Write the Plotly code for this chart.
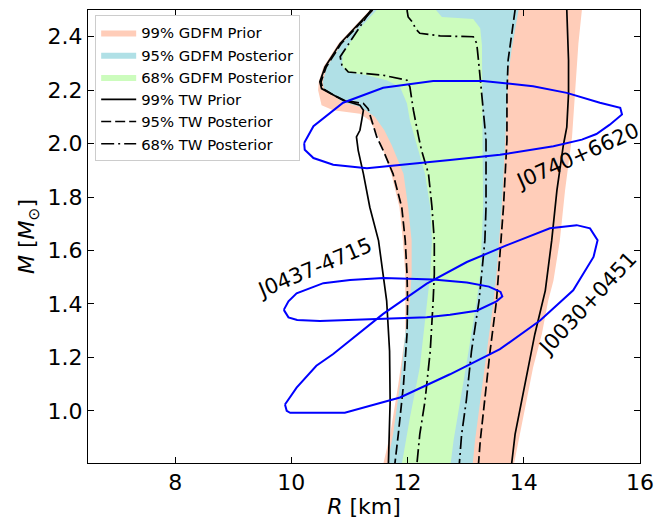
import plotly.graph_objects as go

# ---------------- data (R in km, M in solar masses) ----------------
# 99% GDFM prior band
gdfm99_left_M = [0.80, 0.912, 1.099, 1.287, 1.412, 1.512, 1.637, 1.762, 1.887, 1.975, 2.025, 2.087, 2.112, 2.125, 2.144, 2.200, 2.231, 2.287, 2.375, 2.50]
gdfm99_left_R = [11.58, 11.70, 11.84, 11.96, 11.96, 11.96, 11.92, 11.86, 11.72, 11.58, 11.50, 11.35, 11.18, 10.72, 10.52, 10.46, 10.47, 10.55, 10.81, 11.35]
gdfm99_right_M = [2.50, 2.375, 2.187, 2.025, 1.975, 1.825, 1.637, 1.487, 1.412, 1.287, 1.162, 1.037, 0.912, 0.80]
gdfm99_right_R = [15.00, 14.94, 14.88, 14.83, 14.80, 14.71, 14.62, 14.51, 14.42, 14.31, 14.16, 14.05, 13.94, 13.83]

# 95% GDFM posterior band
gdfm95_left_M = [0.80, 0.912, 1.099, 1.349, 1.412, 1.512, 1.637, 1.762, 1.887, 1.993, 2.050, 2.100, 2.125, 2.140, 2.155, 2.181, 2.206, 2.231, 2.287, 2.375, 2.50]
gdfm95_left_R = [11.65, 11.75, 11.87, 11.99, 12.04, 12.07, 12.07, 12.01, 11.93, 11.73, 11.60, 11.44, 11.28, 11.15, 10.89, 10.72, 10.56, 10.54, 10.61, 10.87, 11.42]
gdfm95_right_M = [2.50, 2.425, 2.350, 2.250, 2.125, 2.012, 1.762, 1.512, 1.412, 1.224, 1.037, 0.887, 0.80]
gdfm95_right_R = [13.91, 13.85, 13.79, 13.73, 13.71, 13.68, 13.62, 13.53, 13.48, 13.36, 13.25, 13.16, 13.12]

# 68% GDFM posterior band
gdfm68_left_M = [0.80, 0.974, 1.162, 1.412, 1.512, 1.637, 1.762, 1.887, 2.012, 2.087, 2.150, 2.212, 2.237, 2.256, 2.268, 2.294, 2.338, 2.425, 2.50]
gdfm68_left_R = [11.90, 12.04, 12.21, 12.33, 12.39, 12.42, 12.39, 12.30, 12.13, 12.04, 11.99, 11.87, 11.64, 11.30, 10.95, 10.87, 10.89, 11.15, 11.47]
gdfm68_right_M = [2.50, 2.474, 2.466, 2.432, 2.369, 2.012, 1.762, 1.512, 1.412, 1.224, 1.037, 0.887, 0.80]
gdfm68_right_R = [12.49, 12.59, 13.13, 13.25, 13.28, 13.29, 13.30, 13.25, 13.19, 13.05, 12.90, 12.79, 12.74]

# 99% TW prior (solid)
tw99_left_M = [2.50, 2.375, 2.287, 2.231, 2.206, 2.181, 2.162, 2.144, 2.125, 2.087, 2.050, 2.025, 1.975, 1.887, 1.762, 1.637, 1.512, 1.412, 1.224, 1.037, 0.80]
tw99_left_R = [11.38, 10.84, 10.58, 10.49, 10.52, 10.72, 10.89, 11.18, 11.24, 11.21, 11.18, 11.12, 11.15, 11.24, 11.35, 11.50, 11.58, 11.64, 11.69, 11.70, 11.67]
tw99_right_M = [2.50, 2.312, 2.187, 2.062, 1.993, 1.825, 1.637, 1.450, 1.287, 1.162, 1.037, 0.912, 0.80]
tw99_right_R = [14.74, 14.77, 14.77, 14.74, 14.68, 14.57, 14.48, 14.37, 14.19, 14.08, 13.96, 13.85, 13.79]

# 95% TW posterior (dashed)
tw95_left_M = [2.50, 2.375, 2.287, 2.231, 2.206, 2.181, 2.162, 2.150, 2.131, 2.087, 2.025, 1.975, 1.887, 1.762, 1.637, 1.512, 1.412, 1.287, 1.099, 0.912, 0.80]
tw95_left_R = [11.40, 10.86, 10.60, 10.51, 10.54, 10.73, 10.91, 11.24, 11.32, 11.38, 11.47, 11.58, 11.75, 11.90, 11.96, 11.99, 12.00, 11.99, 11.93, 11.84, 11.78]
tw95_right_M = [2.50, 2.400, 2.312, 2.187, 2.012, 1.762, 1.537, 1.412, 1.224, 1.037, 0.887, 0.80]
tw95_right_R = [13.85, 13.79, 13.73, 13.71, 13.71, 13.65, 13.58, 13.53, 13.42, 13.32, 13.25, 13.22]

# 68% TW posterior (dash-dot)
tw68_left_M = [2.50, 2.325, 2.294, 2.268, 2.256, 2.237, 2.212, 2.125, 2.025, 1.975, 1.887, 1.762, 1.637, 1.512, 1.412, 1.224, 1.037, 0.912, 0.80]
tw68_left_R = [11.37, 10.84, 10.87, 10.98, 11.58, 11.99, 12.04, 12.10, 12.19, 12.24, 12.36, 12.42, 12.46, 12.46, 12.44, 12.39, 12.30, 12.21, 12.16]
tw68_right_M = [2.50, 2.474, 2.450, 2.432, 2.413, 2.403, 2.400, 2.375, 2.312, 2.187, 2.062, 2.012, 1.762, 1.637, 1.512, 1.412, 1.224, 1.037, 0.912, 0.80]
tw68_right_R = [11.99, 12.01, 12.10, 12.13, 12.21, 12.56, 13.13, 13.19, 13.22, 13.28, 13.33, 13.35, 13.35, 13.33, 13.28, 13.23, 13.10, 13.01, 12.93, 12.89]

# Pulsar observation contours
j0740_R = [10.22, 10.38, 10.89, 11.58, 12.44, 13.30, 14.16, 14.74, 15.31, 15.66, 15.69, 15.48, 15.25, 15.00, 14.51, 13.59, 12.73, 11.87, 11.30, 10.72, 10.38, 10.23, 10.22]
j0740_M = [2.002, 2.065, 2.153, 2.209, 2.234, 2.234, 2.215, 2.190, 2.153, 2.134, 2.109, 2.071, 2.036, 2.015, 1.990, 1.958, 1.939, 1.921, 1.908, 1.921, 1.946, 1.977, 2.002]

j0437_R = [9.87, 9.95, 10.09, 10.55, 11.01, 11.58, 12.44, 13.02, 13.40, 13.60, 13.63, 13.53, 13.19, 12.73, 12.33, 11.30, 10.49, 10.10, 9.95, 9.87]
j0437_M = [1.378, 1.410, 1.440, 1.478, 1.490, 1.497, 1.492, 1.480, 1.465, 1.445, 1.428, 1.410, 1.375, 1.360, 1.350, 1.343, 1.336, 1.340, 1.350, 1.378]

j0030_R = [9.89, 9.92, 9.98, 10.15, 10.92, 11.87, 12.73, 13.59, 14.28, 14.85, 15.20, 15.27, 15.14, 14.91, 14.45, 13.71, 13.02, 12.33, 11.58, 10.72, 10.43, 10.09, 9.89]
j0030_M = [1.024, 1.000, 0.993, 0.993, 0.993, 1.050, 1.137, 1.231, 1.338, 1.451, 1.576, 1.639, 1.683, 1.695, 1.683, 1.620, 1.557, 1.476, 1.363, 1.213, 1.169, 1.087, 1.024]

pulsar_names = ["J0740+6620", "J0437-4715", "J0030+0451"]
label_R = [14.93, 10.40, 15.09]
label_M = [1.952, 1.535, 1.401]
label_angle = [-24, -23, -47]

band_names = ["99% GDFM Prior", "95% GDFM Posterior", "68% GDFM Posterior"]
line_names = ["99% TW Prior", "95% TW Posterior", "68% TW Posterior"]

x_ticks = [8, 10, 12, 14, 16]
y_ticks = [1.0, 1.2, 1.4, 1.6, 1.8, 2.0, 2.2, 2.4]

# ---------------- figure ----------------
FONT = "DejaVu Sans"
fig = go.Figure()

bands = [
    (gdfm99_left_R, gdfm99_left_M, gdfm99_right_R, gdfm99_right_M, "#ffcdb9"),
    (gdfm95_left_R, gdfm95_left_M, gdfm95_right_R, gdfm95_right_M, "#b0e0e6"),
    (gdfm68_left_R, gdfm68_left_M, gdfm68_right_R, gdfm68_right_M, "#ccfcbd"),
]
for name, (lr, lm, rr, rm, col) in zip(band_names, bands):
    fig.add_trace(go.Scatter(
        x=lr + rr, y=lm + rm, mode="lines", fill="toself",
        fillcolor=col, line=dict(width=0, color=col), name=name,
        hoverinfo="skip"))

lines = [
    (tw99_left_R, tw99_left_M, tw99_right_R, tw99_right_M, "solid"),
    (tw95_left_R, tw95_left_M, tw95_right_R, tw95_right_M, "10px,4px"),
    (tw68_left_R, tw68_left_M, tw68_right_R, tw68_right_M, "13px,4px,2px,4px"),
]
for name, (lr, lm, rr, rm, dash) in zip(line_names, lines):
    fig.add_trace(go.Scatter(
        x=lr + [None] + rr, y=lm + [None] + rm, mode="lines",
        line=dict(color="black", width=1.7, dash=dash), name=name,
        connectgaps=False, hoverinfo="skip"))

for R, M in [(j0740_R, j0740_M), (j0437_R, j0437_M), (j0030_R, j0030_M)]:
    fig.add_trace(go.Scatter(
        x=R, y=M, mode="lines", line=dict(color="#0000ff", width=2),
        showlegend=False, hoverinfo="skip"))

for name, r, m, ang in zip(pulsar_names, label_R, label_M, label_angle):
    fig.add_annotation(x=r, y=m, text=name, showarrow=False, textangle=ang,
                       font=dict(family=FONT, size=21, color="black"),
                       xanchor="center", yanchor="middle")

axis_common = dict(
    showline=True, linecolor="black", linewidth=1, mirror="ticks",
    ticks="inside", ticklen=6, tickwidth=1, tickcolor="black",
    showgrid=False, zeroline=False,
    tickfont=dict(family=FONT, size=22, color="black"),
)

fig.update_layout(
    width=670, height=519,
    margin=dict(l=88, r=30, t=10, b=56),
    paper_bgcolor="white", plot_bgcolor="white",
    font=dict(family=FONT, color="black"),
    showlegend=True,
    legend=dict(
        x=0.013, y=0.988, xanchor="left", yanchor="top",
        bgcolor="rgba(255,255,255,0.85)", bordercolor="#cccccc", borderwidth=1,
        font=dict(family=FONT, size=14.8, color="black"),
        tracegroupgap=0, itemwidth=35,
    ),
    xaxis=dict(range=[6.5, 16], tickvals=x_ticks, automargin=False,
               title=dict(text="<i>R</i> [km]", font=dict(family=FONT, size=22), standoff=2),
               **axis_common),
    yaxis=dict(range=[0.805, 2.5], tickvals=y_ticks, tickformat=".1f", automargin=False,
               title=dict(text="<i>M</i> [<i>M</i><sub>⊙</sub>]", font=dict(family=FONT, size=22), standoff=6),
               **axis_common),
)

fig.write_html("out.html", config={"displayModeBar": False},
               post_script="document.body.style.margin='0px';document.body.style.padding='0px';")
